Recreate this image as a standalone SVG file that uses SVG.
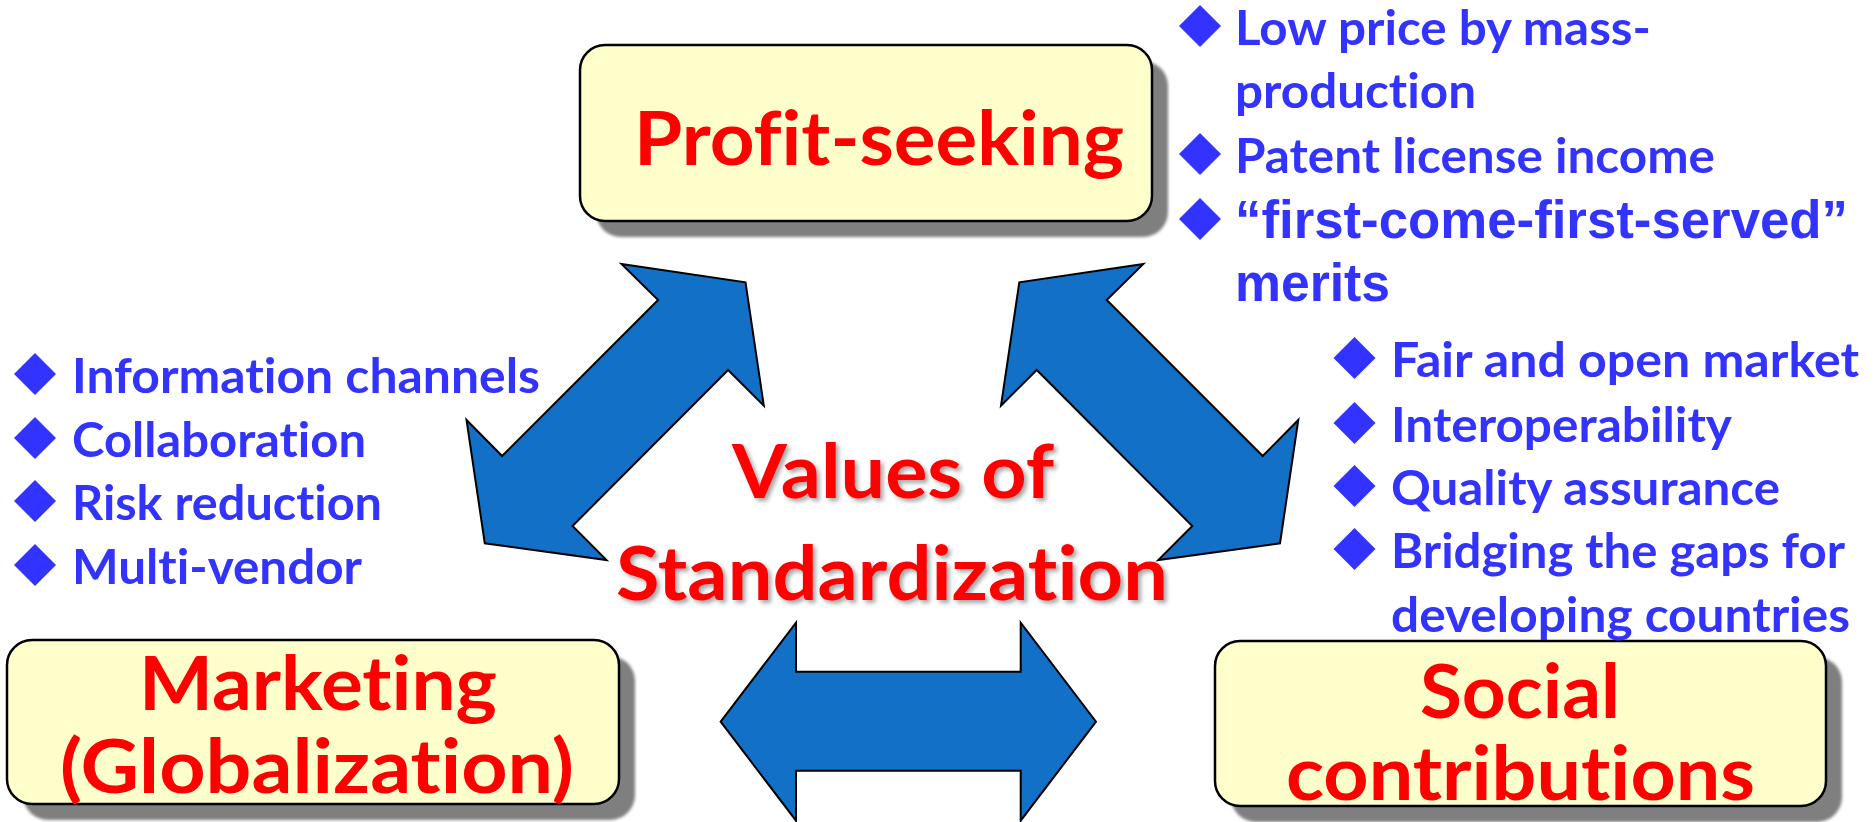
<svg xmlns="http://www.w3.org/2000/svg" width="1875" height="822" viewBox="0 0 1875 822">
<defs>
<style>
text{font-variant-ligatures:none;font-feature-settings:"liga" 0,"clig" 0,"dlig" 0}
.box{fill:#FFFFCC;stroke:#000;stroke-width:2.5}
.shadow{fill:#7F7F7F}
.big{font-family:Lato,"Open Sans","Liberation Sans",sans-serif;font-weight:bold;font-size:75px;fill:#FF0000}
.bul{font-family:Lato,"Open Sans","Liberation Sans",sans-serif;font-weight:bold;font-size:47.5px;fill:#3333FF}
.bula{font-family:"Liberation Sans",Arial,sans-serif;font-weight:bold;font-size:53px;fill:#3333FF}
.dia{fill:#3333FF}
.arrow{fill:#1270C6;stroke:#000;stroke-width:2;stroke-linejoin:miter}
</style>
<filter id="blur" x="-10%" y="-10%" width="120%" height="120%"><feGaussianBlur stdDeviation="1.5"/></filter>
<filter id="tshadow" x="-10%" y="-20%" width="120%" height="140%"><feDropShadow dx="3" dy="3" stdDeviation="2" flood-color="#000" flood-opacity="0.35"/></filter>
<path id="d" d="M0,-21 L21,0 L0,21 L-21,0 Z"/>
</defs>
<rect width="1875" height="822" fill="#FFFFFF"/>

<g id="connectors">
<polygon class="arrow" points="621.5,264 745.5,282.3 763.8,405.7 728.1,370 572.5,526 606.5,560 484.8,543.3 466.5,420 502.1,456 658.1,300"/>
<polygon class="arrow" points="1143.3,264 1019.3,282.3 1001,405.7 1036.7,370 1192.3,526 1158.3,560 1280,543.3 1298.3,420 1262.7,456 1106.7,300"/>
<polygon class="arrow" points="720.7,721.7 796,622.7 796,671.7 1020.7,671.7 1020.7,622.7 1096,721.7 1020.7,820.7 1020.7,770.7 796,770.7 796,820.7"/>
</g>

<g id="node-profit">
<rect class="shadow" x="596" y="61" width="572" height="176" rx="25" filter="url(#blur)"/>
<rect class="box" x="580" y="45" width="572" height="176" rx="25"/>
<text class="big" x="634" y="165" textLength="490" lengthAdjust="spacingAndGlyphs">Profit-seeking</text>
</g>

<g id="node-marketing">
<rect class="shadow" x="23" y="656" width="612" height="164" rx="25" filter="url(#blur)"/>
<rect class="box" x="7" y="640" width="612" height="164" rx="25"/>
<text class="big" x="139" y="710" textLength="358" lengthAdjust="spacingAndGlyphs">Marketing</text>
<text class="big" x="60" y="793" textLength="514" lengthAdjust="spacingAndGlyphs">(Globalization)</text>
</g>

<g id="node-social">
<rect class="shadow" x="1231" y="657" width="611" height="165" rx="25" filter="url(#blur)"/>
<rect class="box" x="1215" y="641" width="611" height="165" rx="25"/>
<text class="big" x="1420" y="718" textLength="200" lengthAdjust="spacingAndGlyphs">Social</text>
<text class="big" x="1286" y="800" textLength="469" lengthAdjust="spacingAndGlyphs">contributions</text>
</g>

<g id="node-center" filter="url(#tshadow)">
<text class="big" x="732" y="498" textLength="322" lengthAdjust="spacingAndGlyphs">Values of</text>
<text class="big" x="616" y="600" textLength="552" lengthAdjust="spacingAndGlyphs">Standardization</text>
</g>

<g id="list-profit">
<use href="#d" class="dia" x="1200" y="26"/>
<use href="#d" class="dia" x="1200" y="154"/>
<use href="#d" class="dia" x="1200" y="219"/>
<text class="bul" x="1235" y="45" textLength="416" lengthAdjust="spacingAndGlyphs">Low price by mass-</text>
<text class="bul" x="1235" y="108" textLength="241" lengthAdjust="spacingAndGlyphs">production</text>
<text class="bul" x="1235" y="173" textLength="480" lengthAdjust="spacingAndGlyphs">Patent license income</text>
<text class="bula" x="1235" y="238" textLength="613" lengthAdjust="spacingAndGlyphs">“first-come-first-served”</text>
<text class="bula" x="1235" y="301" textLength="155" lengthAdjust="spacingAndGlyphs">merits</text>
</g>

<g id="list-marketing">
<use href="#d" class="dia" x="35" y="374"/>
<use href="#d" class="dia" x="35" y="438"/>
<use href="#d" class="dia" x="35" y="501"/>
<use href="#d" class="dia" x="35" y="565"/>
<text class="bul" x="72" y="393" textLength="468" lengthAdjust="spacingAndGlyphs">Information channels</text>
<text class="bul" x="72" y="457" textLength="294" lengthAdjust="spacingAndGlyphs">Collaboration</text>
<text class="bul" x="72" y="520" textLength="310" lengthAdjust="spacingAndGlyphs">Risk reduction</text>
<text class="bul" x="72" y="584" textLength="290" lengthAdjust="spacingAndGlyphs">Multi-vendor</text>
</g>

<g id="list-social">
<use href="#d" class="dia" x="1354.5" y="358"/>
<use href="#d" class="dia" x="1354.5" y="423"/>
<use href="#d" class="dia" x="1354.5" y="486"/>
<use href="#d" class="dia" x="1354.5" y="549"/>
<text class="bul" x="1391" y="377" textLength="468" lengthAdjust="spacingAndGlyphs">Fair and open market</text>
<text class="bul" x="1391" y="442" textLength="341" lengthAdjust="spacingAndGlyphs">Interoperability</text>
<text class="bul" x="1391" y="505" textLength="389" lengthAdjust="spacingAndGlyphs">Quality assurance</text>
<text class="bul" x="1391" y="568" textLength="454" lengthAdjust="spacingAndGlyphs">Bridging the gaps for</text>
<text class="bul" x="1391" y="632" textLength="459" lengthAdjust="spacingAndGlyphs">developing countries</text>
</g>
</svg>
